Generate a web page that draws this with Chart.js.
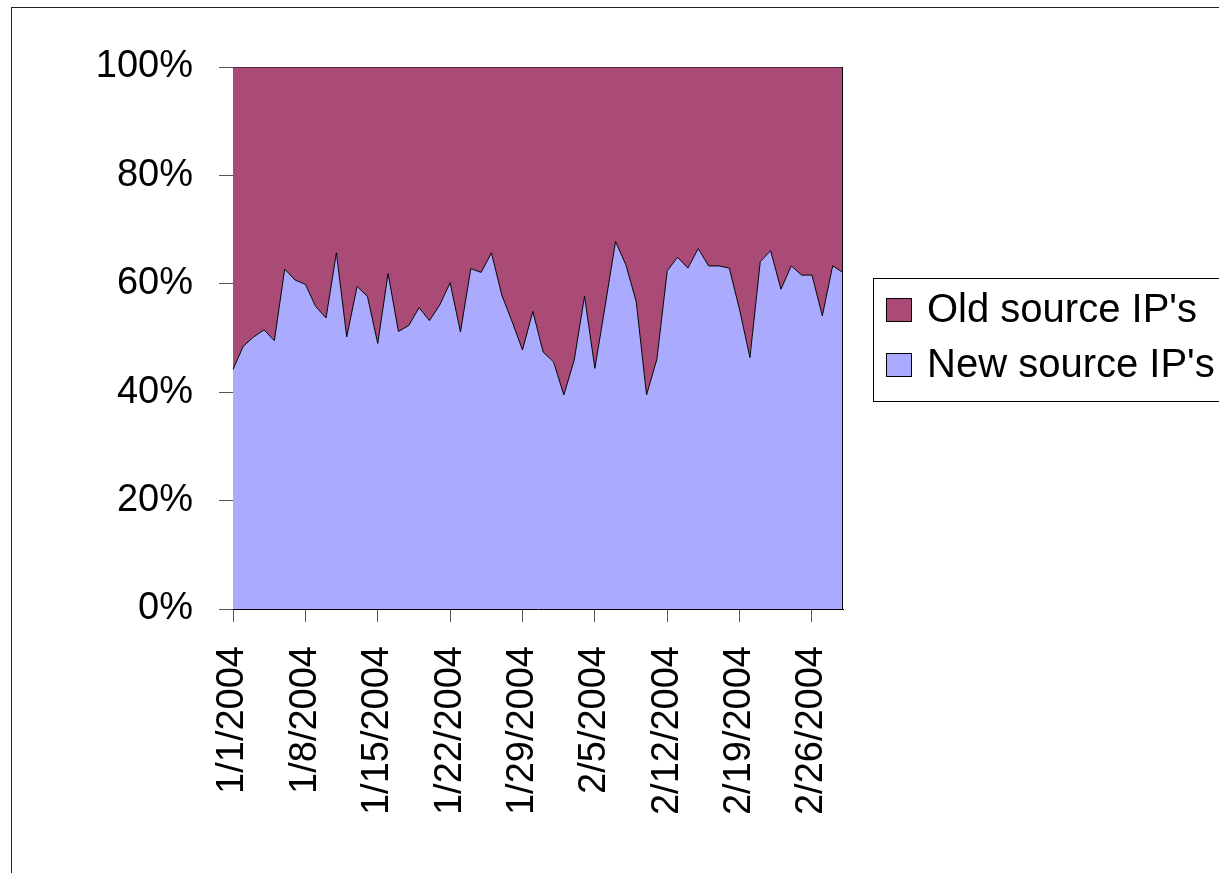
<!DOCTYPE html>
<html>
<head>
<meta charset="utf-8">
<title>Source IP share</title>
<script src="https://cdn.jsdelivr.net/npm/chart.js@4.4.1/dist/chart.umd.min.js"></script>
<style>
  html, body { margin: 0; padding: 0; background: #fff; }
  #wrap { width: 1219px; height: 873px; position: relative; }
</style>
</head>
<body>
<div id="wrap"><canvas id="ipChart" width="1219" height="873"></canvas></div>
<script>
const days = [
  '1/1/2004', '1/2/2004', '1/3/2004', '1/4/2004', '1/5/2004', '1/6/2004', '1/7/2004',
  '1/8/2004', '1/9/2004', '1/10/2004', '1/11/2004', '1/12/2004', '1/13/2004', '1/14/2004',
  '1/15/2004', '1/16/2004', '1/17/2004', '1/18/2004', '1/19/2004', '1/20/2004', '1/21/2004',
  '1/22/2004', '1/23/2004', '1/24/2004', '1/25/2004', '1/26/2004', '1/27/2004', '1/28/2004',
  '1/29/2004', '1/30/2004', '1/31/2004', '2/1/2004', '2/2/2004', '2/3/2004', '2/4/2004',
  '2/5/2004', '2/6/2004', '2/7/2004', '2/8/2004', '2/9/2004', '2/10/2004', '2/11/2004',
  '2/12/2004', '2/13/2004', '2/14/2004', '2/15/2004', '2/16/2004', '2/17/2004', '2/18/2004',
  '2/19/2004', '2/20/2004', '2/21/2004', '2/22/2004', '2/23/2004', '2/24/2004', '2/25/2004',
  '2/26/2004', '2/27/2004', '2/28/2004', '2/29/2004'
];

// daily share of sources, in percent
const newSourceShare = [
  44.2, 48.5, 50.2, 51.5, 49.5, 62.7, 60.7, 59.9, 55.8, 53.7,
  65.7, 50.2, 59.5, 57.7, 49.0, 61.9, 51.2, 52.3, 55.6, 53.2,
  56.1, 60.2, 51.1, 62.8, 62.1, 65.7, 57.9, 53.0, 47.8, 54.9,
  47.4, 45.6, 39.5, 45.9, 57.7, 44.4, 56.0, 67.8, 63.5, 56.7,
  39.5, 46.1, 62.4, 64.9, 62.9, 66.5, 63.3, 63.3, 62.9, 55.2,
  46.4, 64.1, 66.1, 59.0, 63.3, 61.6, 61.6, 54.1, 63.3, 62.1
];
const oldSourceShare = [
  55.8, 51.5, 49.8, 48.5, 50.5, 37.3, 39.3, 40.1, 44.2, 46.3,
  34.3, 49.8, 40.5, 42.3, 51.0, 38.1, 48.8, 47.7, 44.4, 46.8,
  43.9, 39.8, 48.9, 37.2, 37.9, 34.3, 42.1, 47.0, 52.2, 45.1,
  52.6, 54.4, 60.5, 54.1, 42.3, 55.6, 44.0, 32.2, 36.5, 43.3,
  60.5, 53.9, 37.6, 35.1, 37.1, 33.5, 36.7, 36.7, 37.1, 44.8,
  53.6, 35.9, 33.9, 41.0, 36.7, 38.4, 38.4, 45.9, 36.7, 37.9
];
const percentTicks = [0, 20, 40, 60, 80, 100];

const labelEvery = 7;
const fontFamily = '"Liberation Sans", Arial, Helvetica, sans-serif';

Chart.defaults.font.family = fontFamily;
Chart.defaults.color = '#000';

// outer frame, plot border and the boxed legend
const framePlugin = {
  id: 'frame',
  beforeDraw(chart) {
    const c = chart.ctx;
    c.save();
    c.fillStyle = '#fff';
    c.fillRect(0, 0, chart.width, chart.height);
    c.strokeStyle = '#222';
    c.lineWidth = 1;
    c.strokeRect(11.5, 7.5, 1400, 1000);
    c.restore();
  },
  afterDatasetsDraw(chart) {
    const { ctx: c, chartArea: a } = chart;
    c.save();
    c.strokeStyle = '#000';
    c.lineWidth = 1;
    c.beginPath();
    c.moveTo(Math.round(a.right) - 0.5, a.top);
    c.lineTo(Math.round(a.right) - 0.5, a.bottom);
    c.stroke();
    c.restore();
  },
  afterDraw(chart) {
    const c = chart.ctx;
    const items = chart.data.datasets.slice().reverse();
    c.save();
    c.strokeStyle = '#000';
    c.lineWidth = 1;
    c.strokeRect(873.5, 278.5, 500, 123);
    c.font = '40px ' + fontFamily;
    c.textBaseline = 'middle';
    c.fillStyle = '#000';
    items.forEach((ds, i) => {
      const y = 310 + i * 55;
      c.fillStyle = ds.backgroundColor;
      c.fillRect(886, y - 12, 26, 24);
      c.strokeRect(886.5, y - 11.5, 25, 23);
      c.fillStyle = '#000';
      c.fillText(ds.label, 927, y + 1);
    });
    c.restore();
  }
};

new Chart(document.getElementById('ipChart'), {
  type: 'line',
  data: {
    labels: days,
    datasets: [
      {
        label: "New source IP's",
        data: newSourceShare,
        backgroundColor: '#AAAAFF',
        borderColor: '#000',
        borderWidth: 1,
        fill: 'origin',
        pointRadius: 0,
        tension: 0
      },
      {
        label: "Old source IP's",
        data: oldSourceShare,
        backgroundColor: '#A94A77',
        borderColor: '#000',
        borderWidth: 1,
        fill: '-1',
        pointRadius: 0,
        tension: 0
      }
    ]
  },
  options: {
    responsive: false,
    animation: false,
    layout: { padding: { left: 0, top: 67, right: 376, bottom: 0 } },
    plugins: {
      legend: { display: false },
      tooltip: { enabled: false }
    },
    scales: {
      x: {
        offset: false,
        afterFit: scale => { scale.height = 264; },
        border: { color: '#000', width: 1 },
        grid: {
          drawOnChartArea: false,
          tickLength: 13,
          color: ctx => (ctx.index % labelEvery === 0 ? '#555' : 'rgba(0,0,0,0)')
        },
        ticks: {
          autoSkip: false,
          minRotation: 90,
          maxRotation: 90,
          padding: 24,
          font: { size: 38 },
          callback: (value, index) => (index % labelEvery === 0 ? days[index] : '')
        }
      },
      y: {
        stacked: true,
        min: 0,
        max: 100,
        afterFit: scale => { scale.width = 233; },
        afterBuildTicks: scale => { scale.ticks = percentTicks.map(v => ({ value: v })); },
        border: { color: '#000', width: 1 },
        grid: { drawOnChartArea: false, tickLength: 14, color: '#555' },
        ticks: {
          padding: 26,
          font: { size: 38 },
          callback: value => value + '%'
        }
      }
    }
  },
  plugins: [framePlugin]
});
</script>
</body>
</html>
